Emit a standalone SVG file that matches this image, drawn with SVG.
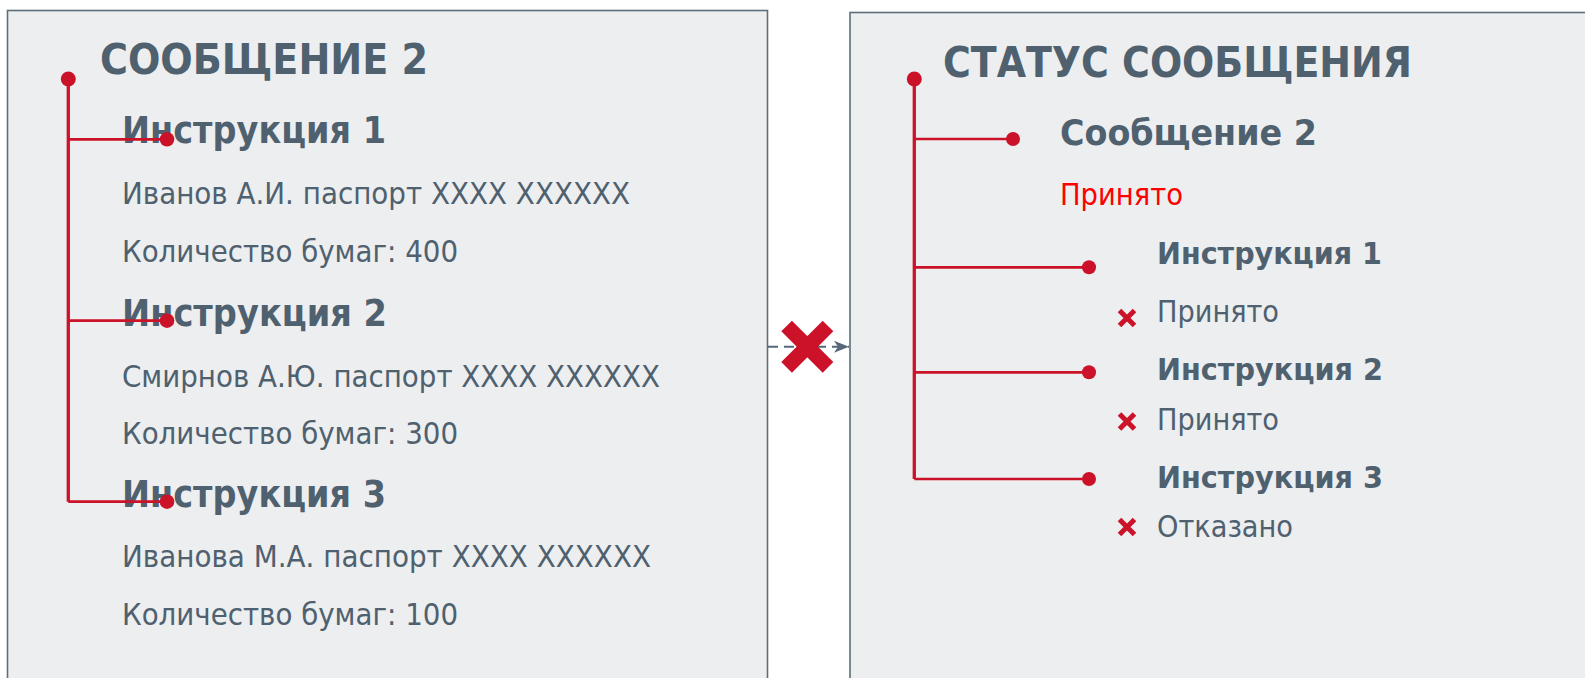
<svg xmlns="http://www.w3.org/2000/svg" width="1585" height="678" viewBox="0 0 1585 678">
<style>
.box{fill:#ECEEF0;stroke:#5E6E7B;stroke-width:1.6}
.t{font-family:"DejaVu Sans","Liberation Sans",sans-serif;fill:#4F606E}
.b{font-weight:bold}
.h{font-size:43px}
.i1{font-size:38px}
.i2{font-size:31px}
.s{font-size:35px}
.r{font-size:30px}
.red{fill:#FF0000}
.tree{stroke:#CC1229;fill:none}
.dot{fill:#CC1229}
.x{stroke:#CC1229;stroke-linecap:butt}
</style>
<defs>
<marker id="arr" markerWidth="16" markerHeight="14" refX="15" refY="7" orient="auto" markerUnits="userSpaceOnUse">
<path d="M0,1 L15,7 L0,13 L4,7 Z" fill="#56687A"/>
</marker>
</defs>
<rect width="1585" height="678" fill="#FFFFFF"/>
<g id="left-box">
<rect class="box" x="7.5" y="10.5" width="760" height="700"/>
<text class="t b h" x="100" y="74" textLength="328" lengthAdjust="spacingAndGlyphs">СООБЩЕНИЕ 2</text>
<text class="t b i1" x="122" y="143" textLength="264" lengthAdjust="spacingAndGlyphs">Инструкция 1</text>
<text class="t r" x="122" y="204" textLength="508" lengthAdjust="spacingAndGlyphs">Иванов А.И. паспорт XXXX XXXXXX</text>
<text class="t r" x="122" y="261.5" textLength="336" lengthAdjust="spacingAndGlyphs">Количество бумаг: 400</text>
<text class="t b i1" x="122" y="325.5" textLength="265" lengthAdjust="spacingAndGlyphs">Инструкция 2</text>
<text class="t r" x="122" y="386.5" textLength="538" lengthAdjust="spacingAndGlyphs">Смирнов А.Ю. паспорт XXXX XXXXXX</text>
<text class="t r" x="122" y="444" textLength="336" lengthAdjust="spacingAndGlyphs">Количество бумаг: 300</text>
<text class="t b i1" x="122" y="506.5" textLength="264" lengthAdjust="spacingAndGlyphs">Инструкция 3</text>
<text class="t r" x="122" y="567" textLength="529" lengthAdjust="spacingAndGlyphs">Иванова М.А. паспорт XXXX XXXXXX</text>
<text class="t r" x="122" y="625" textLength="336" lengthAdjust="spacingAndGlyphs">Количество бумаг: 100</text>
</g>
<g id="right-box">
<rect class="box" x="850" y="12.5" width="800" height="700"/>
<text class="t b h" x="943" y="77" textLength="469" lengthAdjust="spacingAndGlyphs">СТАТУС СООБЩЕНИЯ</text>
<text class="t b s" x="1060" y="144.5" textLength="257" lengthAdjust="spacingAndGlyphs">Сообщение 2</text>
<text class="t r red" x="1060" y="205" textLength="123" lengthAdjust="spacingAndGlyphs">Принято</text>
<text class="t b i2" x="1157" y="263.5" textLength="225" lengthAdjust="spacingAndGlyphs">Инструкция 1</text>
<text class="t r" x="1157" y="321.5" textLength="122" lengthAdjust="spacingAndGlyphs">Принято</text>
<text class="t b i2" x="1157" y="379.5" textLength="226" lengthAdjust="spacingAndGlyphs">Инструкция 2</text>
<text class="t r" x="1157" y="430" textLength="122" lengthAdjust="spacingAndGlyphs">Принято</text>
<text class="t b i2" x="1157" y="488" textLength="226" lengthAdjust="spacingAndGlyphs">Инструкция 3</text>
<text class="t r" x="1157" y="537" textLength="136" lengthAdjust="spacingAndGlyphs">Отказано</text>
<g id="status-icons">
<path class="x" stroke-width="5" d="M1119.5,310.5 L1134.5,325.5 M1134.5,310.5 L1119.5,325.5"/>
<path class="x" stroke-width="5" d="M1119.5,414 L1134.5,429 M1134.5,414 L1119.5,429"/>
<path class="x" stroke-width="5" d="M1119.5,519.5 L1134.5,534.5 M1134.5,519.5 L1119.5,534.5"/>
</g>
</g>
<g id="connectors">
<g id="left-tree">
<path class="tree" stroke-width="3.3" d="M68.3,79 V501.7"/>
<path class="tree" stroke-width="2.7" d="M68.3,139.3 H167 M68.3,320.7 H167 M68.3,501.7 H167"/>
<circle class="dot" cx="68.3" cy="79" r="7.5"/>
<circle class="dot" cx="167" cy="139.3" r="7.3"/>
<circle class="dot" cx="167" cy="320.7" r="7.3"/>
<circle class="dot" cx="167" cy="501.7" r="7.3"/>
</g>
<g id="right-tree">
<path class="tree" stroke-width="3.3" d="M914.3,79 V479"/>
<path class="tree" stroke-width="2.7" d="M914.3,139 H1013 M914.3,267.3 H1089 M914.3,372.3 H1089 M914.3,479 H1089"/>
<circle class="dot" cx="914.3" cy="79" r="7.5"/>
<circle class="dot" cx="1013" cy="139" r="7"/>
<circle class="dot" cx="1089" cy="267.3" r="7"/>
<circle class="dot" cx="1089" cy="372.3" r="7"/>
<circle class="dot" cx="1089" cy="479" r="7"/>
</g>
<g id="edge-left-right">
<path d="M768,346.7 H849" stroke="#56687A" stroke-width="2" stroke-dasharray="10,6" fill="none" marker-end="url(#arr)"/>
<path class="x" stroke-width="15" d="M786.6,326 L828,367.4 M828,326 L786.6,367.4"/>
</g>
</g>
</svg>
